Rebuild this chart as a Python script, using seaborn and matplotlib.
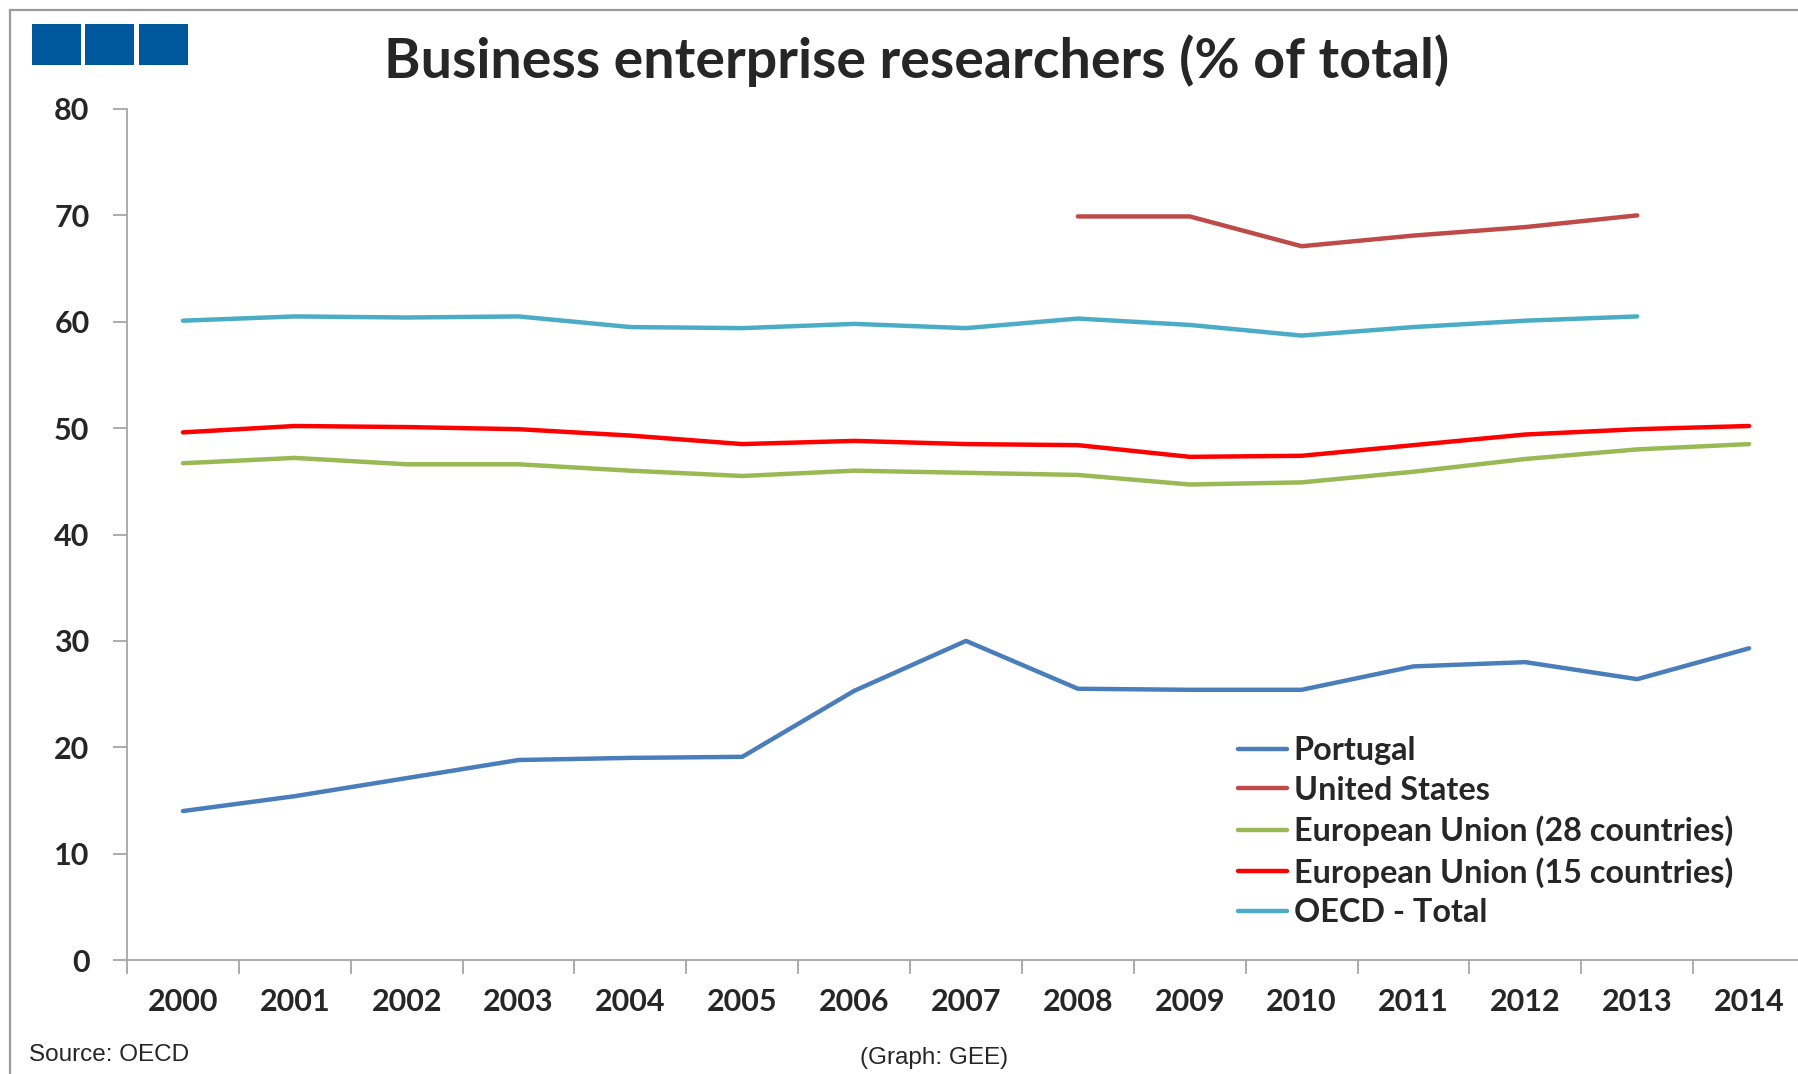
import matplotlib
matplotlib.use("Agg")
import matplotlib.pyplot as plt
from matplotlib.patches import Rectangle
from matplotlib.lines import Line2D
import numpy as np
import pandas as pd
import seaborn as sns

years = list(range(2000, 2015))

portugal = [14.0, 15.4, 17.1, 18.8, 19.0, 19.1, 25.3, 30.0, 25.5, 25.4, 25.4, 27.6, 28.0, 26.4, 29.3]
united_states = [None, None, None, None, None, None, None, None, 69.9, 69.9, 67.1, 68.1, 68.9, 70.0, None]
eu28 = [46.7, 47.2, 46.6, 46.6, 46.0, 45.5, 46.0, 45.8, 45.6, 44.7, 44.9, 45.9, 47.1, 48.0, 48.5]
eu15 = [49.6, 50.2, 50.1, 49.9, 49.3, 48.5, 48.8, 48.5, 48.4, 47.3, 47.4, 48.4, 49.4, 49.9, 50.2]
oecd = [60.1, 60.5, 60.4, 60.5, 59.5, 59.4, 59.8, 59.4, 60.3, 59.7, 58.7, 59.5, 60.1, 60.5, None]

series_names = ["Portugal", "United States", "European Union (28 countries)",
                "European Union (15 countries)", "OECD - Total"]
series_values = [portugal, united_states, eu28, eu15, oecd]
colors = ["#4A7EBB", "#BE4B48", "#98B954", "#FF0000", "#4BACC6"]

y_ticks = [0, 10, 20, 30, 40, 50, 60, 70, 80]

frames = []
for name, vals in zip(series_names, series_values):
    frames.append(pd.DataFrame({"year": years, "value": vals, "series": name}))
df = pd.concat(frames, ignore_index=True).dropna()

sns.set_theme(style="white")
plt.rcParams["font.family"] = ["Lato", "DejaVu Sans"]

W, H = 1798, 1074
fig = plt.figure(figsize=(W / 100, H / 100), dpi=100)
fig.patch.set_facecolor("white")

# outer frame
fig.add_artist(Rectangle((10 / W, -0.05), 1.1, (H - 10) / H + 0.05, transform=fig.transFigure,
                         fill=False, edgecolor="#9a9a9a", linewidth=1.6))

# logo blocks
for x0 in (32, 85, 139):
    fig.add_artist(Rectangle((x0 / W, 1 - 65 / H), 49 / W, 41 / H, transform=fig.transFigure,
                             facecolor="#00589C", edgecolor="none"))

ax = fig.add_axes([127 / W, 114 / H, (1805 - 127) / W, (960 - 109) / H])
sns.lineplot(data=df, x="year", y="value", hue="series", hue_order=series_names,
             palette=colors, linewidth=3.2, sort=True, ax=ax, legend=False)

ax.set_xlim(1999.5, 2014.5)
ax.set_ylim(0, 80)
ax.set_xlabel("")
ax.set_ylabel("")

for s in ("top", "right"):
    ax.spines[s].set_visible(False)
for s in ("left", "bottom"):
    ax.spines[s].set_color("#a6a6a6")
    ax.spines[s].set_linewidth(1.3)

ax.set_yticks(y_ticks)
ax.set_yticklabels([str(v) for v in y_ticks], fontsize=22, fontweight="bold")
ax.set_xticks(years)
ax.set_xticklabels([str(y) for y in years], fontsize=22, fontweight="bold")
ax.set_xticks([y - 0.5 for y in years] + [2014.5], minor=True)
ax.tick_params(axis="x", which="major", length=0, pad=20)
ax.tick_params(axis="x", which="minor", length=10, width=1.3, color="#a6a6a6", direction="out")
ax.tick_params(axis="y", which="major", length=10, width=1.3, color="#a6a6a6", direction="out", pad=17, left=True)
ax.tick_params(axis="x", bottom=True, which="both")
ax.grid(False)

handles = [Line2D([0], [0], color=c, linewidth=3.2) for c in colors]
leg = fig.legend(handles, series_names, loc="upper left", bbox_to_anchor=(1238 / W, 1 - 736 / H),
                 frameon=False, handlelength=1.5, handletextpad=0.22, labelspacing=0.33,
                 borderpad=0, borderaxespad=0,
                 prop={"family": ["Lato", "DejaVu Sans"], "weight": "bold", "size": 23.3})

fig.text(917 / W, 1 - 61 / H, "Business enterprise researchers (% of total)",
         ha="center", va="center", fontsize=40, fontweight="bold")
fig.text(29 / W, 1 - 1055 / H, "Source: OECD", ha="left", va="center", fontsize=17.5,
         family=["Liberation Sans Narrow", "Liberation Sans", "DejaVu Sans"])
fig.text(934 / W, 1 - 1058 / H, "(Graph: GEE)", ha="center", va="center", fontsize=17.5,
         family=["Liberation Sans Narrow", "Liberation Sans", "DejaVu Sans"])

fig.savefig("out.png", dpi=100, facecolor="white")
